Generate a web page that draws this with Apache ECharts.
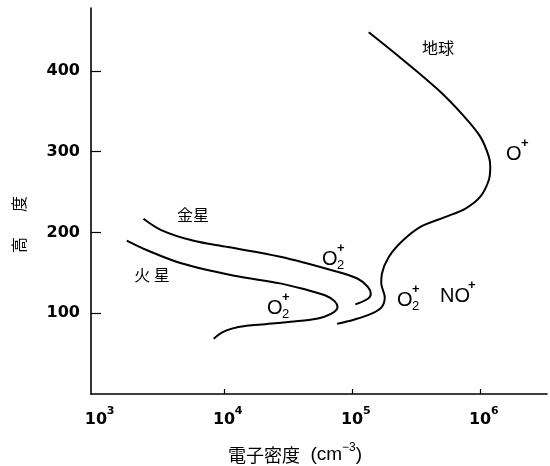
<!DOCTYPE html>
<html>
<head>
<meta charset="utf-8">
<script src="https://cdn.jsdelivr.net/npm/echarts@6/dist/echarts.min.js"></script>
<style>
html,body{margin:0;padding:0;background:#fff;}
#c{width:550px;height:466px;}
</style>
</head>
<body>
<div id="c"></div>
<script>
// ---- data (electron density in cm^-3, altitude in km) ----
const xLabelValues = [1e3, 1e4, 1e5, 1e6];
const xTickValues = [1e4, 1e5, 1e6];
const yTickValues = [100, 200, 300, 400];
const earthDensity = [1.35e5, 2.49e5, 4.68e5, 7.28e5, 1.0e6, 1.17e6, 1.2e6, 1.17e6, 1.0e6, 7.74e5, 5.31e5, 3.42e5, 2.49e5, 1.94e5, 1.71e5, 1.69e5, 1.8e5, 1.71e5, 1.42e5, 1.03e5, 7.64e4];
const earthAltitude = [448, 414, 377, 346, 319, 294, 281, 265, 244, 230, 219, 207, 190, 170, 149, 137, 120, 108, 99.5, 92, 87];
const venusDensity = [2.35e3, 3.23e3, 5.69e3, 1.07e4, 2.75e4, 7.06e4, 1.1e5, 1.33e5, 1.4e5, 1.33e5, 1.06e5];
const venusAltitude = [217, 203, 190, 182, 170, 153, 143, 132.5, 124, 118, 111];
const marsDensity = [1.74e3, 2.51e3, 4.71e3, 1.2e4, 2.75e4, 4.4e4, 6.2e4, 7.3e4, 7.7e4, 6.9e4, 5.3e4, 3.3e4, 2.1e4, 1.5e4, 1.15e4, 9.6e3, 8.3e3];
const marsAltitude = [190, 178, 161.5, 146.5, 137, 129, 122, 115, 107.7, 99.5, 93.3, 89.5, 86.5, 84.5, 81, 76, 68.5];

function pairs(xs, ys) { return xs.map((x, i) => [x, ys[i]]); }

const chart = echarts.init(document.getElementById('c'), null, {renderer: 'canvas'});

const lineStyle = {color: '#000', width: 2};
function curve(name, xs, ys) {
  return {
    name: name, type: 'line', data: pairs(xs, ys), smooth: 0.35,
    showSymbol: false, symbol: 'none', lineStyle: lineStyle, silent: true, animation: false
  };
}

const cjk = '"Noto Sans CJK JP", "Noto Sans CJK SC", sans-serif';
const latin = '"Liberation Sans", Arial, sans-serif';

function txt(x, y, text, size, family, extra) {
  return {
    type: 'text', x: x, y: y,
    style: Object.assign({text: text, fontSize: size, fontFamily: family, fill: '#000', align: 'center', verticalAlign: 'middle'}, extra || {})
  };
}
// ion label: base letters, superscript '+' and optional subscript
function ion(x, y, base, sub) {
  const w = base.length === 1 ? 14 : 27;
  const children = [
    txt(x, y, base, 20, latin, {align: 'left'}),
    txt(x + w + 1, y - 11, '+', 13, latin, {align: 'left', fontWeight: 'bold'})
  ];
  if (sub) children.push(txt(x + w + 1, y + 6, sub, 13, latin, {align: 'left'}));
  return {type: 'group', children: children};
}

const option = {
  animation: false,
  backgroundColor: '#fff',
  grid: {left: 91, right: 3, top: 8, bottom: 72, containLabel: false},
  xAxis: {
    type: 'log', logBase: 10, min: 914, max: 3.33e6,
    axisLine: {show: true, onZero: false, lineStyle: {color: '#000', width: 1.6}},
    axisTick: {show: true, inside: true, length: 5, lineStyle: {color: '#000', width: 1.2}, customValues: xTickValues},
    splitLine: {show: false},
    minorTick: {show: false},
    axisLabel: {
      customValues: xLabelValues,
      margin: 12,
      formatter: function (v) { return '{p|}{a|10}{s|' + Math.round(Math.log10(v)) + '}'; },
      rich: {
        p: {width: 7},
        a: {fontSize: 16, fontFamily: '"DejaVu Sans", sans-serif', fontWeight: 'bold', color: '#000', lineHeight: 22, verticalAlign: 'bottom'},
        s: {fontSize: 11, fontFamily: '"DejaVu Sans", sans-serif', fontWeight: 'bold', color: '#000', width: 7, lineHeight: 22, verticalAlign: 'top'}
      }
    }
  },
  yAxis: {
    type: 'value', min: 0, max: 478,
    axisLine: {show: true, lineStyle: {color: '#000', width: 1.6}},
    axisTick: {show: true, inside: true, length: 10, lineStyle: {color: '#000', width: 1.2}, customValues: yTickValues},
    splitLine: {show: false},
    axisLabel: {
      customValues: yTickValues,
      margin: 11, color: '#000', fontSize: 16, fontWeight: 'bold',
      fontFamily: '"DejaVu Sans", sans-serif'
    }
  },
  series: [
    curve('地球', earthDensity, earthAltitude),
    curve('金星', venusDensity, venusAltitude),
    curve('火星', marsDensity, marsAltitude)
  ],
  graphic: [
    txt(438, 48, '地球', 16, cjk),
    txt(193, 215, '金星', 16, cjk),
    txt(152, 275, '火 星', 16, cjk),
    txt(19, 204, '度', 16, cjk, {}),
    txt(19, 245, '高', 16, cjk, {}),
    {
      type: 'text', x: 295, y: 453,
      style: {
        text: '{a|電子密度}{b|  (cm}{s|−3}{b|)}', align: 'center', verticalAlign: 'middle',
        rich: {
          a: {fontSize: 18, fontFamily: cjk, fill: '#000', lineHeight: 22, verticalAlign: 'bottom'},
          b: {fontSize: 19, fontFamily: latin, fill: '#000', lineHeight: 22, verticalAlign: 'bottom'},
          s: {fontSize: 12, fontFamily: latin, fill: '#000', lineHeight: 22, verticalAlign: 'top'}
        }
      }
    },
    ion(506, 154, 'O'),
    ion(322, 259, 'O', '2'),
    ion(267, 308, 'O', '2'),
    ion(397, 300, 'O', '2'),
    ion(440, 296, 'NO')
  ]
};
// rotate the vertical y-axis title characters
option.graphic[3].rotation = Math.PI / 2;
option.graphic[4].rotation = Math.PI / 2;

chart.setOption(option);
</script>
</body>
</html>
